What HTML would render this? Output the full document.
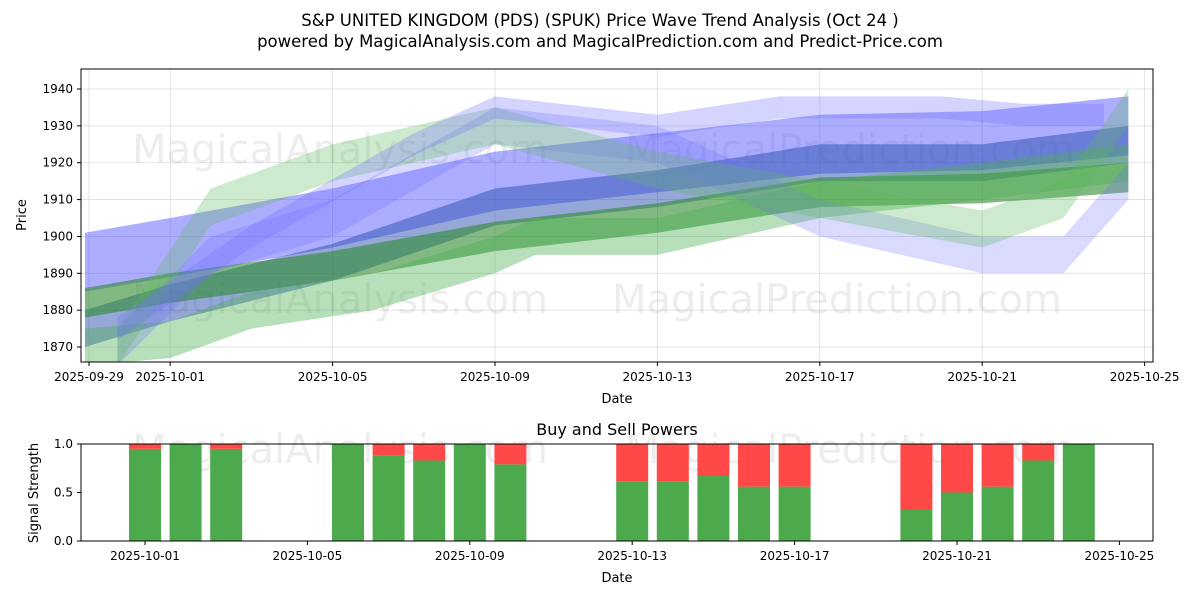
<!DOCTYPE html>
<html><head><meta charset="utf-8"><style>
body{margin:0;background:#fff;font-family:"Liberation Sans","DejaVu Sans",sans-serif}
svg text{font-family:"DejaVu Sans","Liberation Sans",sans-serif}
</style></head><body>
<svg id="c" width="1200" height="600" viewBox="0 0 1200 600">
<rect width="1200" height="600" fill="#fff"/>
<text x="600" y="26" font-size="16.5" text-anchor="middle">S&amp;P UNITED KINGDOM (PDS) (SPUK) Price Wave Trend Analysis (Oct 24 )</text>
<text x="600" y="47" font-size="16.5" text-anchor="middle">powered by MagicalAnalysis.com and MagicalPrediction.com and Predict-Price.com</text>
<g id="topG"></g><g id="botG"></g>
</svg>
<script>
// ---- data ----
const bandDates=[[-0.1,2,6,10,14,18,22,25.6],[-0.1,2,6,10,14,18,22,25.6],[-0.1,2,6,10,14,18,22,25.6],[-0.1,2,4,7,10,11,14,18,22,25.6],[0.7,3,6,10,14,18,22,24,25.6],[0.7,3,6,10,14,18,22,24,25.6],[0.7,4,8,10,14,17,21,23,25]];
const bandCenters=[[1893,1897,1905,1915,1920,1925,1926,1930],[1875,1882,1893,1908,1913,1920,1920,1925],[1882,1886,1892,1900,1905,1912,1913,1916],[1870,1872,1880,1885,1895,1900,1900,1910,1915,1920],[1870,1895,1905,1930,1925,1905,1895,1895,1915],[1870,1908,1920,1930,1918,1910,1902,1910,1935],[1875,1900,1925,1935,1930,1935,1935,1933,1933]];
const bandHalf=[8,5,4,5,5,5,3];
const bandColor=['#4a4aff','#2a4fb0','#2e8b2e','#4caf50','#6a6aff','#5cb85c','#7070ff'];
const bandAlpha=[0.45,0.5,0.6,0.4,0.25,0.3,0.3];
const yTicks=[1870,1880,1890,1900,1910,1920,1930,1940];
const xTickDays=[0,2,6,10,14,18,22,26];
const xTickLabels=['2025-09-29','2025-10-01','2025-10-05','2025-10-09','2025-10-13','2025-10-17','2025-10-21','2025-10-25'];
const barDays=[2,3,4,7,8,9,10,11,14,15,16,17,18,21,22,23,24,25];
const buyPower=[0.95,1,0.95,1,0.88,0.83,1,0.79,0.61,0.61,0.67,0.56,0.56,0.33,0.5,0.56,0.83,1];
const bTickDays=[2,6,10,14,18,22,26];
const bTickLabels=['2025-10-01','2025-10-05','2025-10-09','2025-10-13','2025-10-17','2025-10-21','2025-10-25'];
const sTicks=[0,0.5,1];
const NS='http://www.w3.org/2000/svg';
function el(p,t,a,txt){const e=document.createElementNS(NS,t);for(const k in a)e.setAttribute(k,a[k]);if(txt!=null)e.textContent=txt;p.appendChild(e);return e;}
const L=81,R=1153;
const xT=d=>89+(d)*40.6;
const yT=v=>89+(1940-v)*3.686;
const xB=d=>145+(d-2)*40.6;
const yB=v=>541-v*97;
const topG=document.getElementById('topG'),botG=document.getElementById('botG');
el(topG,'rect',{x:L,y:69,width:R-L,height:293,fill:'#fff'});
yTicks.forEach(v=>{el(topG,'line',{x1:L,x2:R,y1:yT(v),y2:yT(v),stroke:'#ddd','stroke-width':0.8});
el(topG,'line',{x1:L-4,x2:L,y1:yT(v),y2:yT(v),stroke:'#000'});
const t=el(topG,'text',{x:L-8,y:yT(v)+4,'font-size':12,'text-anchor':'end'},v);

});
xTickDays.forEach((d,i)=>{el(topG,'line',{x1:xT(d),x2:xT(d),y1:69,y2:362,stroke:'#ddd','stroke-width':0.8});
el(topG,'line',{x1:xT(d),x2:xT(d),y1:362,y2:366,stroke:'#000'});
const t=el(topG,'text',{x:xT(d),y:381,'font-size':12,'text-anchor':'middle'},xTickLabels[i]);

});
el(topG,'text',{x:340,y:163,'font-size':40,fill:'#000','fill-opacity':0.07,'text-anchor':'middle'},'MagicalAnalysis.com');
el(topG,'text',{x:850,y:163,'font-size':40,fill:'#000','fill-opacity':0.07,'text-anchor':'middle'},'MagicalPrediction.com');
el(topG,'text',{x:340,y:313,'font-size':40,fill:'#000','fill-opacity':0.07,'text-anchor':'middle'},'MagicalAnalysis.com');
el(topG,'text',{x:837,y:313,'font-size':40,fill:'#000','fill-opacity':0.07,'text-anchor':'middle'},'MagicalPrediction.com');
const clip=el(topG,'clipPath',{id:'cp'});el(clip,'rect',{x:L,y:69,width:R-L,height:293});
const bands=el(topG,'g',{'clip-path':'url(#cp)'});
bandCenters.forEach((c,i)=>{
 const d=bandDates[i];let up=[],lo=[];
 c.forEach((v,j)=>{up.push(xT(d[j])+','+yT(v+bandHalf[i]));lo.unshift(xT(d[j])+','+yT(v-bandHalf[i]));});
 const p=el(bands,'polygon',{points:up.concat(lo).join(' '),fill:bandColor[i],'fill-opacity':bandAlpha[i]});
 
 
});
el(topG,'rect',{x:L,y:69,width:R-L,height:293,fill:'none',stroke:'#000'});
el(topG,'text',{x:617,y:403,'font-size':13,'text-anchor':'middle'},'Date');
el(topG,'text',{x:26,y:215,'font-size':13,'text-anchor':'middle',transform:'rotate(-90 26 215)'},'Price');
el(botG,'text',{x:617,y:435,'font-size':16,'text-anchor':'middle'},'Buy and Sell Powers');
el(botG,'text',{x:340,y:463,'font-size':40,fill:'#000','fill-opacity':0.07,'text-anchor':'middle'},'MagicalAnalysis.com');
el(botG,'text',{x:850,y:463,'font-size':40,fill:'#000','fill-opacity':0.07,'text-anchor':'middle'},'MagicalPrediction.com');
barDays.forEach((d,i)=>{const x=xB(d)-16;
 const g=el(botG,'rect',{x:x,y:yB(buyPower[i]),width:32,height:yB(0)-yB(buyPower[i]),fill:'#4caa4c'});
 
 
 const r=el(botG,'rect',{x:x,y:yB(1),width:32,height:yB(buyPower[i])-yB(1),fill:'#ff4848'});
 
 
});
el(botG,'rect',{x:L,y:444,width:R-L,height:97,fill:'none',stroke:'#000'});
sTicks.forEach(v=>{el(botG,'line',{x1:L-4,x2:L,y1:yB(v),y2:yB(v),stroke:'#000'});
el(botG,'text',{x:L-8,y:yB(v)+4,'font-size':12,'text-anchor':'end'},v.toFixed(1));});
bTickDays.forEach((d,i)=>{el(botG,'line',{x1:xB(d),x2:xB(d),y1:541,y2:545,stroke:'#000'});
el(botG,'text',{x:xB(d),y:560,'font-size':12,'text-anchor':'middle'},bTickLabels[i]);});
el(botG,'text',{x:617,y:582,'font-size':13,'text-anchor':'middle'},'Date');
el(botG,'text',{x:38,y:493,'font-size':13,'text-anchor':'middle',transform:'rotate(-90 38 493)'},'Signal Strength');
</script>
</body></html>
